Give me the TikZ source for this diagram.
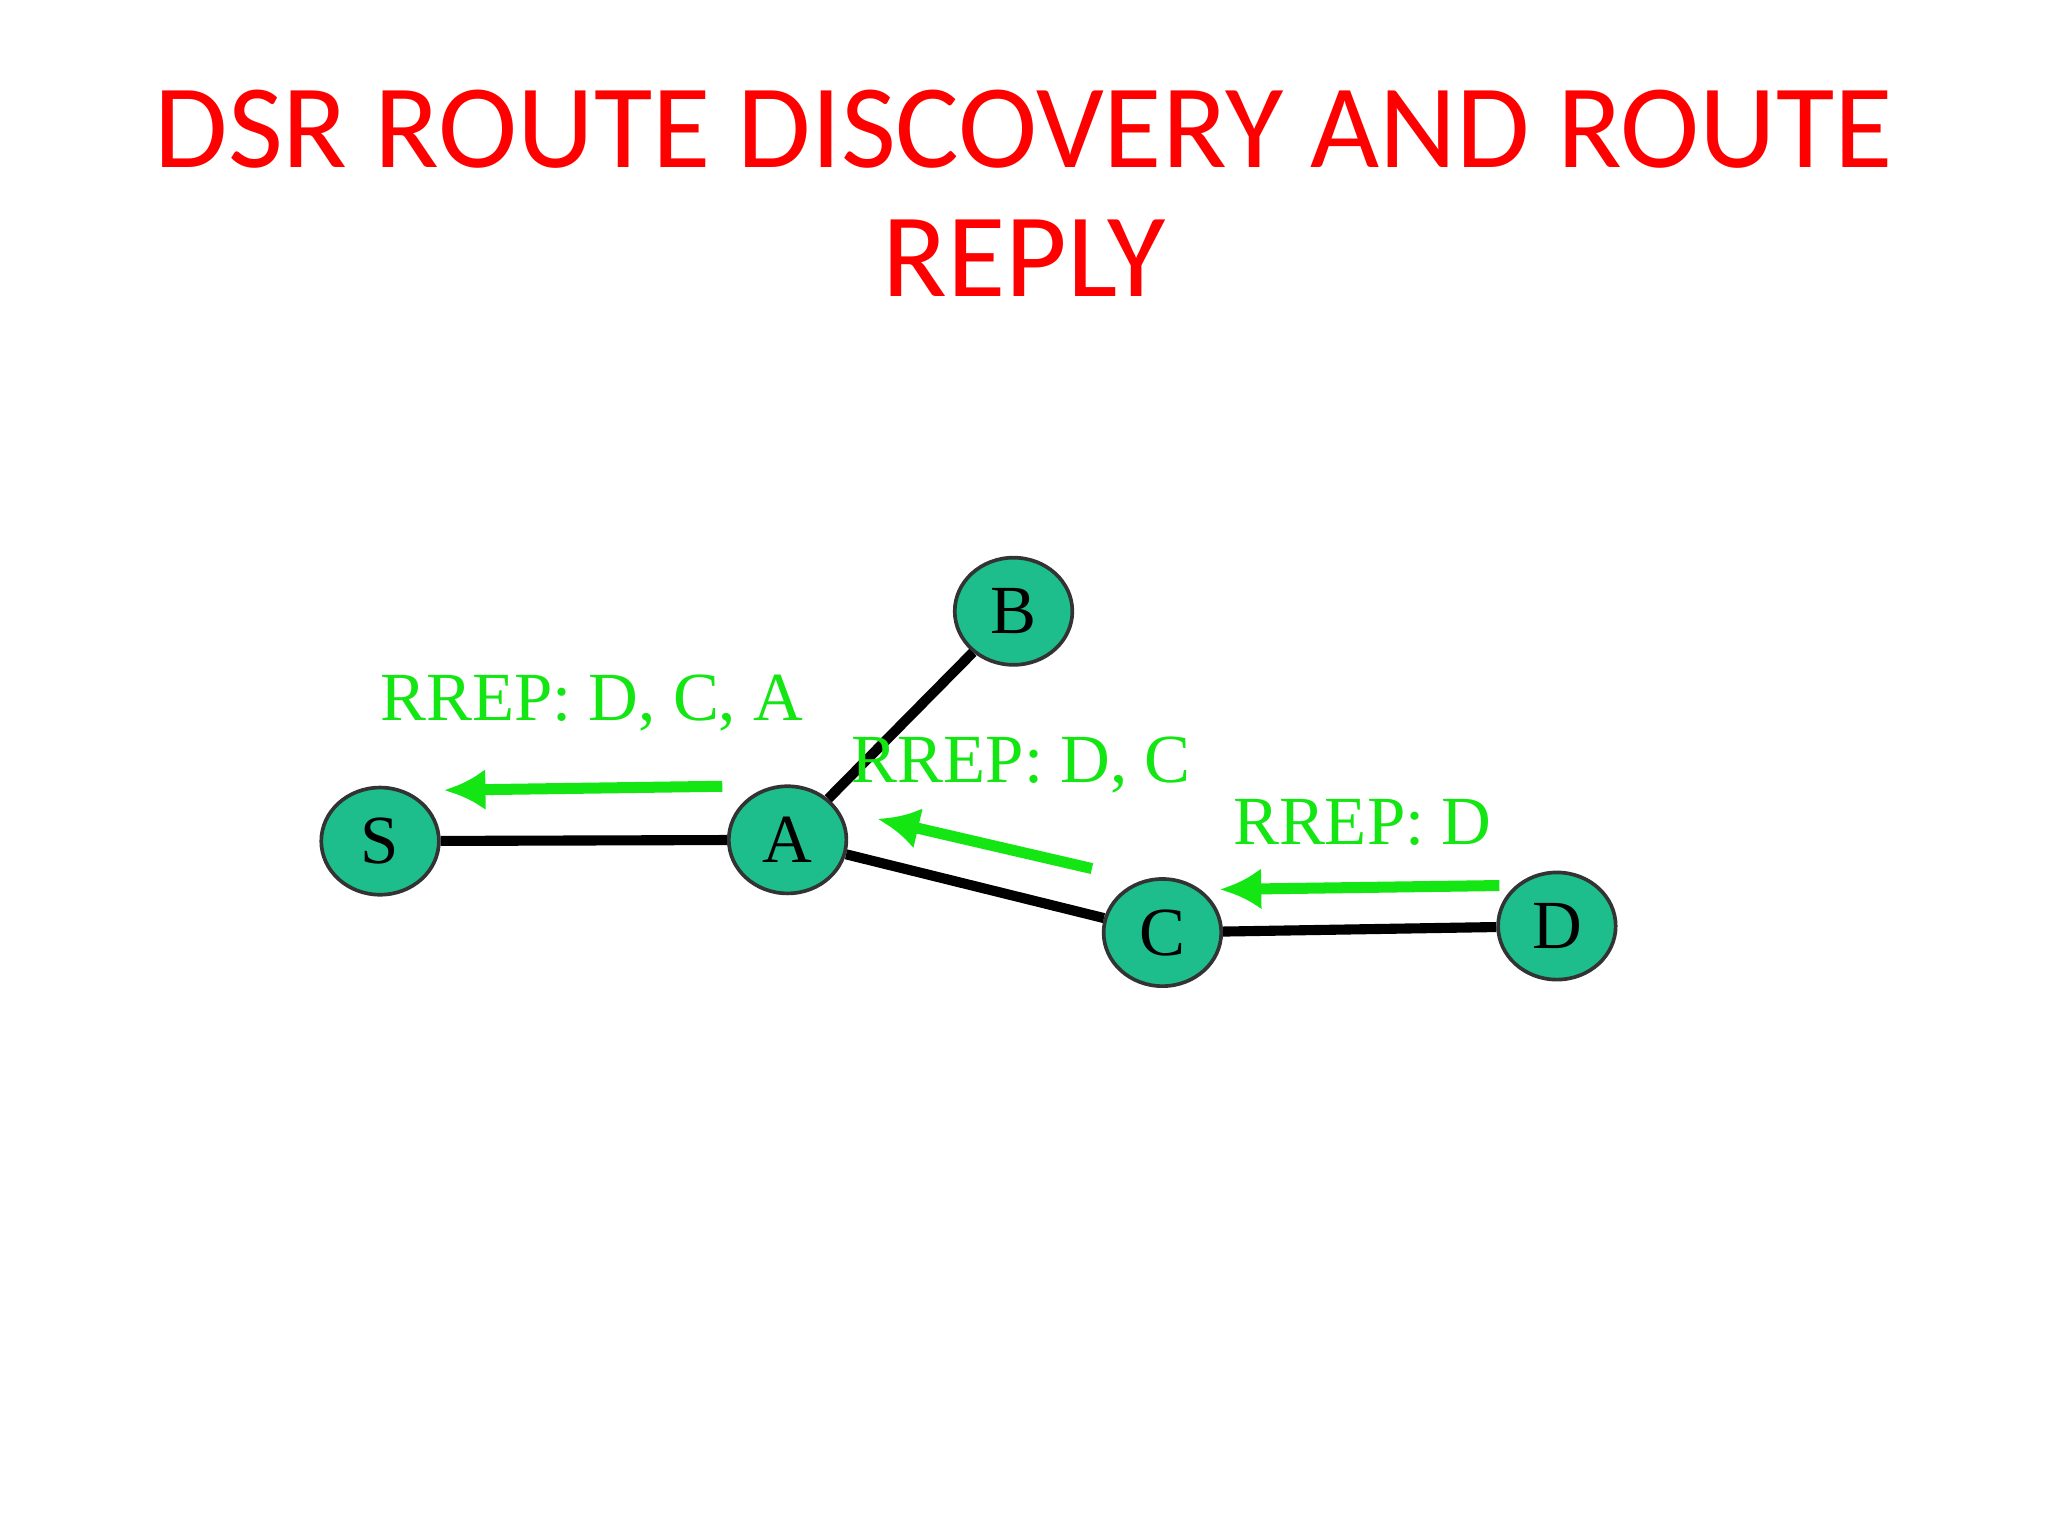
\documentclass[tikz,border=0pt]{standalone}
\usepackage{fontspec}
\setmainfont{Liberation Serif}
\newfontfamily\titlefont{Carlito}
\usetikzlibrary{shapes.geometric,arrows.meta}
\definecolor{nodeteal}{RGB}{30,190,140}
\definecolor{arrgreen}{RGB}{20,230,20}
\definecolor{titlered}{RGB}{255,0,0}
\tikzset{
  netnode/.style={ellipse,draw=black!80,line width=0.8pt,fill=nodeteal,minimum width=0.9cm,minimum height=0.82cm,inner sep=0pt,font=\fontsize{15}{18}\selectfont},
  link/.style={line width=2.2pt,black},
  rrep/.style={arrgreen,line width=2.4pt,-{Latex[length=9pt,width=9pt]}},
  lbl/.style={text=arrgreen,font=\fontsize{15}{18}\selectfont,inner sep=0pt}
}
\begin{document}
\begin{tikzpicture}[x=0.01cm,y=-0.01cm]
\useasboundingbox (0,0) rectangle (1568,1176);
\node[text=titlered,font=\titlefont\fontsize{26}{30}\selectfont,align=center] (title) at (784,148) {DSR ROUTE DISCOVERY AND ROUTE\\[-2pt]REPLY};
\node[netnode] (S) at (291,644) {S};
\node[netnode] (A) at (603,643) {A};
\node[netnode] (B) at (776,468) {B};
\node[netnode] (C) at (890,714) {C};
\node[netnode] (D) at (1192,709) {D};
\draw[link] (S) -- (A);
\draw[link] (A) -- (B);
\draw[link] (A) -- (C);
\draw[link] (C) -- (D);
\coordinate (a1s) at (553,602); \coordinate (a1e) at (340,605);
\coordinate (a2s) at (836,665); \coordinate (a2e) at (672,627);
\coordinate (a3s) at (1148,678); \coordinate (a3e) at (934,681);
\draw[rrep] (a1s) -- (a1e);
\draw[rrep] (a2s) -- (a2e);
\draw[rrep] (a3s) -- (a3e);
\node[lbl] (l1) at (453,538) {RREP: D, C, A};
\node[lbl] (l2) at (782,586) {RREP: D, C};
\node[lbl] (l3) at (1043,630) {RREP: D};
\end{tikzpicture}
\end{document}
